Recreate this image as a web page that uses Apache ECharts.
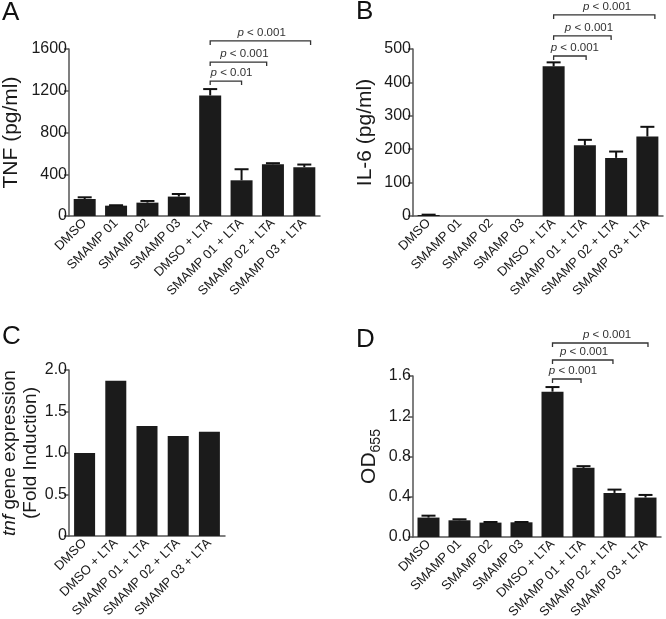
<!DOCTYPE html>
<html>
<head>
<meta charset="utf-8">
<script src="https://cdn.jsdelivr.net/npm/echarts@6/dist/echarts.min.js"></script>
<style>html,body{margin:0;padding:0;background:#fff}#c{width:666px;height:619px}</style>
</head>
<body>
<div id="c"></div>
<script>
// ---- data ----
const catsAll = ['DMSO', 'SMAMP 01', 'SMAMP 02', 'SMAMP 03', 'DMSO + LTA', 'SMAMP 01 + LTA', 'SMAMP 02 + LTA', 'SMAMP 03 + LTA'];
const catsC = ['DMSO', 'DMSO + LTA', 'SMAMP 01 + LTA', 'SMAMP 02 + LTA', 'SMAMP 03 + LTA'];

const tnfMean = [163, 99, 128, 186, 1155, 342, 496, 467];
const tnfErr  = [16, 4, 16, 25, 61, 106, 10, 26];

const il6Mean = [3, 0, 0, 0, 448, 212, 174, 238];
const il6Err  = [1, 0, 0, 0, 12, 16, 19, 29];

const tnfGene = [1.00, 1.87, 1.325, 1.205, 1.257];

const odMean = [0.193, 0.166, 0.143, 0.146, 1.444, 0.687, 0.438, 0.392];
const odErr  = [0.019, 0.010, 0.006, 0.003, 0.046, 0.017, 0.033, 0.026];

const ticksA = ['0', '400', '800', '1200', '1600'];
const ticksC = ['0', '0.5', '1.0', '1.5', '2.0'];
const ticksD = ['0.0', '0.4', '0.8', '1.2', '1.6'];

// significance brackets: [startCategory, endCategory, yValue, labelCenterCategory]
const bracketsA = [[4, 5.0, 1293, 4.68], [4, 5.8, 1475, 5.09], [4, 7.2, 1677, 5.64]];
const bracketLabelsA = ['p < 0.01', 'p < 0.001', 'p < 0.001'];
const bracketsB = [[4, 5.04, 479, 4.68], [4, 5.84, 539, 5.13], [4, 7.24, 602, 5.71]];
const bracketLabelsB = ['p < 0.001', 'p < 0.001', 'p < 0.001'];
const bracketsD = [[4, 4.92, 1.570, 4.66], [4, 5.95, 1.759, 5.02], [4, 7.08, 1.928, 5.76]];
const bracketLabelsD = ['p < 0.001', 'p < 0.001', 'p < 0.001'];

// ---- rendering ----
const FONT = "'Liberation Sans', Arial, sans-serif";
const AX = '#555';
const TXT = '#1a1a1a';
const BAR = '#1b1b1b';

function errorRender(params, api) {
  const idx = api.value(0), m = api.value(1), e = api.value(2);
  if (!e) return null;
  const base = api.coord([idx, m]);
  const top = api.coord([idx, m + e]);
  const hw = 7;
  return {
    type: 'group',
    children: [
      { type: 'line', shape: { x1: base[0], y1: base[1], x2: top[0], y2: top[1] }, style: { stroke: '#111', lineWidth: 2 } },
      { type: 'line', shape: { x1: top[0] - hw, y1: top[1], x2: top[0] + hw, y2: top[1] }, style: { stroke: '#111', lineWidth: 2 } }
    ]
  };
}

function bracketRender(labels) {
  return function (params, api) {
    const yv = api.value(2);
    const p0 = api.coord([0, yv]);
    const band = api.size([1, 0])[0];
    const y = p0[1];
    const xs = p0[0] + api.value(0) * band;
    const xe = p0[0] + api.value(1) * band;
    const xl = p0[0] + api.value(3) * band;
    const txt = labels[params.dataIndex].replace(/^p/, '{i|p}');
    return {
      type: 'group',
      children: [
        { type: 'polyline', shape: { points: [[xs, y + 4], [xs, y], [xe, y], [xe, y + 4]] },
          style: { stroke: '#333', lineWidth: 1.3, fill: null } },
        { type: 'text', x: xl, y: y - 2,
          style: { text: txt, fill: '#333', font: '11.5px ' + FONT, align: 'center', verticalAlign: 'bottom',
                   rich: { i: { fontStyle: 'italic', fontSize: 11.5, fontFamily: FONT, fill: '#333' } } } }
      ]
    };
  };
}

function xAxisCfg(gi, cats) {
  return {
    gridIndex: gi, type: 'category', data: cats,
    axisLine: { lineStyle: { color: AX, width: 1.5 } },
    axisTick: { show: false },
    axisLabel: { rotate: 45, fontSize: 13, color: TXT, margin: 5, interval: 0, fontFamily: FONT }
  };
}

function yAxisCfg(gi, max, interval, name, nameGap, extra) {
  return Object.assign({
    gridIndex: gi, type: 'value', min: 0, max: max, interval: interval,
    name: name, nameLocation: 'middle', nameRotate: 90, nameGap: nameGap,
    nameTextStyle: { fontSize: 21, color: TXT, fontFamily: FONT },
    axisLine: { show: true, lineStyle: { color: AX, width: 1.5 } },
    axisTick: { show: true, length: 5, lineStyle: { color: AX, width: 1.5 } },
    axisLabel: { fontSize: 16, color: TXT, margin: 2, fontFamily: FONT },
    splitLine: { show: false }
  }, extra || {});
}

const chart = echarts.init(document.getElementById('c'), null, { renderer: 'canvas' });

const titleStyle = { fontSize: 26, fontWeight: 'normal', color: '#111', fontFamily: FONT };
const option = {
  animation: false,
  backgroundColor: '#fff',
  textStyle: { fontFamily: FONT },
  title: [
    { text: 'A', left: 2, top: 0, padding: 0, textStyle: titleStyle },
    { text: 'B', left: 356, top: -1, padding: 0, textStyle: titleStyle },
    { text: 'C', left: 2, top: 324, padding: 0, textStyle: titleStyle },
    { text: 'D', left: 356, top: 327, padding: 0, textStyle: titleStyle }
  ],
  grid: [
    { left: 69, top: 49, width: 251, height: 167, containLabel: false, outerBoundsMode: 'none' },
    { left: 413, top: 49, width: 250, height: 167, containLabel: false, outerBoundsMode: 'none' },
    { left: 69, top: 370, width: 156, height: 166, containLabel: false, outerBoundsMode: 'none' },
    { left: 413, top: 376, width: 248, height: 161, containLabel: false, outerBoundsMode: 'none' }
  ],
  xAxis: [xAxisCfg(0, catsAll), xAxisCfg(1, catsAll), xAxisCfg(2, catsC), xAxisCfg(3, catsAll)],
  yAxis: [
    yAxisCfg(0, 1600, 400, 'TNF (pg/ml)', 47, {
      axisLabel: { fontSize: 16, color: TXT, margin: 2, fontFamily: FONT,
        formatter: function (v) { return ticksA[Math.round(v / 400)]; } }
    }),
    yAxisCfg(1, 500, 100, 'IL-6 (pg/ml)', 37),
    yAxisCfg(2, 2, 0.5, '{i|tnf} gene expression\n(Fold Induction)', 25, {
      nameTextStyle: { fontSize: 19, lineHeight: 21, color: TXT, fontFamily: FONT,
        rich: { i: { fontStyle: 'italic', fontSize: 19, lineHeight: 21, color: TXT, fontFamily: FONT } } },
      axisLabel: { fontSize: 16, color: TXT, margin: 2, fontFamily: FONT,
        formatter: function (v) { return ticksC[Math.round(v / 0.5)]; } }
    }),
    yAxisCfg(3, 1.6, 0.4, 'OD{s|655}', 30, {
      nameTextStyle: { fontSize: 21, lineHeight: 28, color: TXT, fontFamily: FONT,
        rich: { s: { fontSize: 14, lineHeight: 14, verticalAlign: 'bottom', color: TXT, fontFamily: FONT } } },
      axisLabel: { fontSize: 16, color: TXT, margin: 2, fontFamily: FONT,
        formatter: function (v) { return ticksD[Math.round(v / 0.4)]; } }
    })
  ],
  series: [
    { type: 'bar', xAxisIndex: 0, yAxisIndex: 0, data: tnfMean, barWidth: 22, itemStyle: { color: BAR } },
    { type: 'custom', xAxisIndex: 0, yAxisIndex: 0, renderItem: errorRender, z: 5,
      data: tnfMean.map((m, i) => [i, m, tnfErr[i]]), encode: { x: 0, y: 1 } },
    { type: 'custom', xAxisIndex: 0, yAxisIndex: 0, renderItem: bracketRender(bracketLabelsA), clip: false, z: 6,
      data: bracketsA, encode: { x: 0, y: 2 } },

    { type: 'bar', xAxisIndex: 1, yAxisIndex: 1, data: il6Mean, barWidth: 22, itemStyle: { color: BAR } },
    { type: 'custom', xAxisIndex: 1, yAxisIndex: 1, renderItem: errorRender, z: 5,
      data: il6Mean.map((m, i) => [i, m, il6Err[i]]), encode: { x: 0, y: 1 } },
    { type: 'custom', xAxisIndex: 1, yAxisIndex: 1, renderItem: bracketRender(bracketLabelsB), clip: false, z: 6,
      data: bracketsB, encode: { x: 0, y: 2 } },

    { type: 'bar', xAxisIndex: 2, yAxisIndex: 2, data: tnfGene, barWidth: 21, itemStyle: { color: BAR } },

    { type: 'bar', xAxisIndex: 3, yAxisIndex: 3, data: odMean, barWidth: 22, itemStyle: { color: BAR } },
    { type: 'custom', xAxisIndex: 3, yAxisIndex: 3, renderItem: errorRender, z: 5,
      data: odMean.map((m, i) => [i, m, odErr[i]]), encode: { x: 0, y: 1 } },
    { type: 'custom', xAxisIndex: 3, yAxisIndex: 3, renderItem: bracketRender(bracketLabelsD), clip: false, z: 6,
      data: bracketsD, encode: { x: 0, y: 2 } }
  ]
};
chart.setOption(option);
</script>
</body>
</html>
